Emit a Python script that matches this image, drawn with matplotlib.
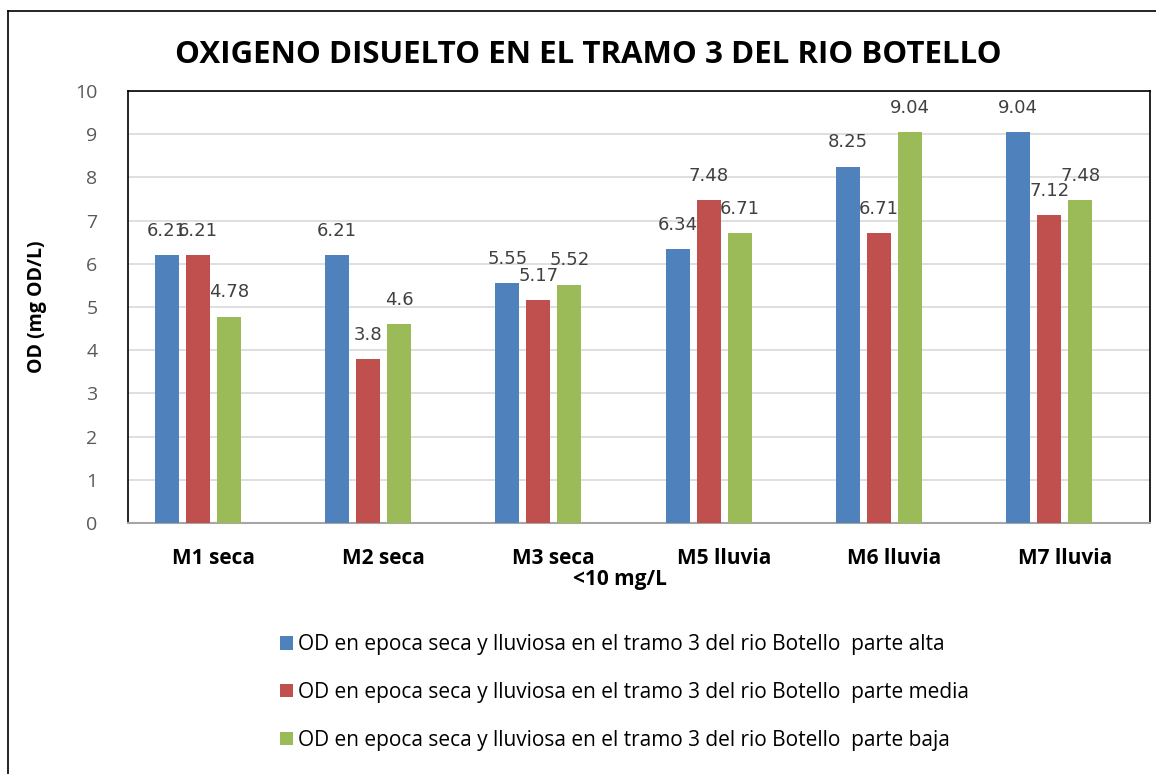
import matplotlib.pyplot as plt
import numpy as np
from matplotlib.lines import Line2D

plt.rcParams['font.family'] = ['Open Sans', 'DejaVu Sans']

# Data
categories = ['M1 seca', 'M2 seca', 'M3 seca', 'M5 lluvia', 'M6 lluvia', 'M7 lluvia']
parte_alta = [6.21, 6.21, 5.55, 6.34, 8.25, 9.04]
parte_media = [6.21, 3.8, 5.17, 7.48, 6.71, 7.12]
parte_baja = [4.78, 4.6, 5.52, 6.71, 9.04, 7.48]
series_labels = [
    'OD en epoca seca y lluviosa en el tramo 3 del rio Botello  parte alta',
    'OD en epoca seca y lluviosa en el tramo 3 del rio Botello  parte media',
    'OD en epoca seca y lluviosa en el tramo 3 del rio Botello  parte baja',
]
colors = ['#4F81BD', '#C0504D', '#9BBB59']

fig = plt.figure(figsize=(11.56, 7.74), dpi=100)
W, H = 1156, 774
ax = fig.add_axes([128 / W, 1 - 523 / H, (1150 - 128) / W, (523 - 91) / H])

x = np.arange(len(categories))
slot = 0.182
width = 0.141
# 4 slots per group in the original (the last one empty)
offsets = [-1.5 * slot, -0.5 * slot, 0.5 * slot]

handles = []
for vals, off, col, lab in zip([parte_alta, parte_media, parte_baja], offsets, colors, series_labels):
    bars = ax.bar(x + off, vals, width, color=col, label=lab, zorder=3)
    handles.append(bars)
    for b, v in zip(bars, vals):
        ax.text(b.get_x() + b.get_width() / 2, v + 0.35, f'{v:g}', ha='center', va='bottom',
                fontsize=13, color='#404040', zorder=4, family='DejaVu Sans')

ax.set_xlim(-0.5, len(categories) - 0.5)
ax.set_ylim(0, 10)
ax.set_yticks(range(0, 11))
ax.yaxis.grid(True, color='#D9D9D9', linewidth=1.2, zorder=0)
ax.set_axisbelow(True)
ax.set_xticks(x)
ax.set_xticklabels(categories, fontsize=15, fontweight='bold')
ax.tick_params(axis='x', length=0, pad=18)
ax.tick_params(axis='y', length=0, labelsize=14, labelcolor='#595959', pad=22)
for s in ['left', 'top', 'right']:
    ax.spines[s].set_color('black')
    ax.spines[s].set_linewidth(1.2)
ax.spines['bottom'].set_color('#A6A6A6')
ax.spines['bottom'].set_linewidth(1.5)

ax.set_ylabel('OD (mg OD/L)', fontsize=14, fontweight='bold', labelpad=20)
fig.text(620 / W, 1 - 579 / H, '<10 mg/L', ha='center', va='center', fontsize=15, fontweight='bold')
fig.text(588 / W, 1 - 55 / H, 'OXIGENO DISUELTO EN EL TRAMO 3 DEL RIO BOTELLO',
         ha='center', va='center', fontsize=22.5, fontweight='bold')

leg = fig.legend(handles=handles, loc='upper left', bbox_to_anchor=(272 / W, 1 - 626 / H),
                 frameon=False, fontsize=15, handlelength=0.6, handleheight=0.6,
                 handletextpad=0.25, labelspacing=1.28, borderaxespad=0)

# outer chart border
fig.add_artist(Line2D([8 / W, 8 / W], [0, 1 - 11 / H], color='black', linewidth=1.2))
fig.add_artist(Line2D([8 / W, 1], [1 - 11 / H, 1 - 11 / H], color='black', linewidth=1.2))

fig.savefig('out.png', dpi=100)
